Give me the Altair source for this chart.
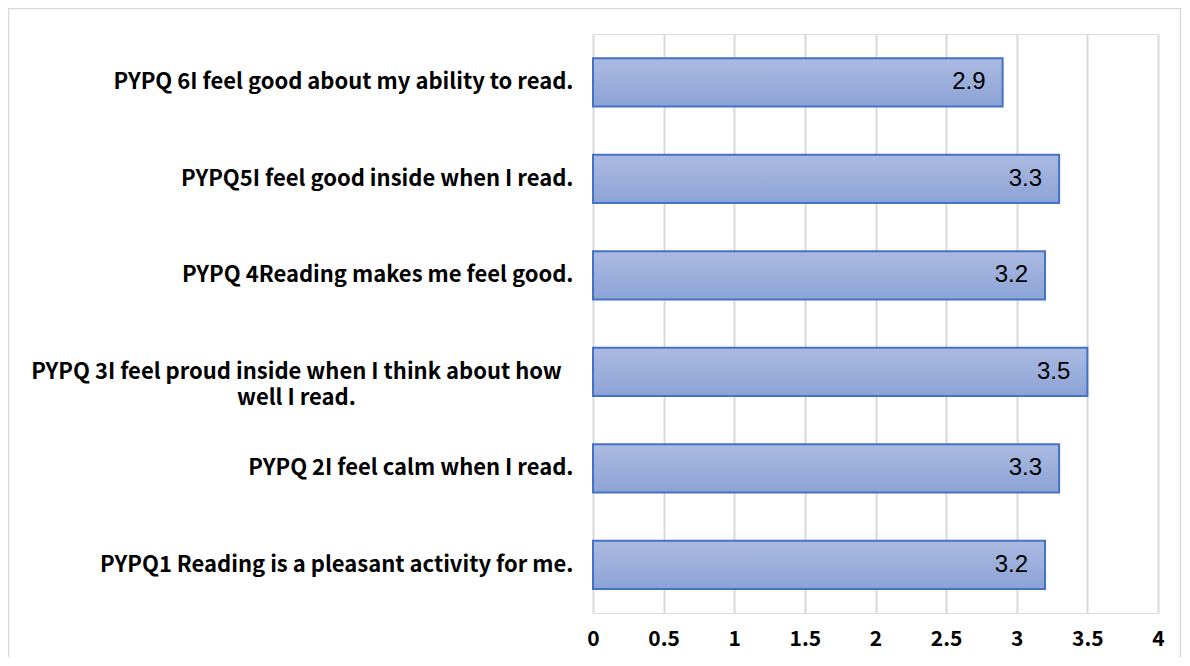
import altair as alt
import pandas as pd

categories = [
    "PYPQ 6I feel good about my ability to read.",
    "PYPQ5I feel good inside when I read.",
    "PYPQ 4Reading makes me feel good.",
    "PYPQ 3I feel proud inside when I think about how\nwell I read.",
    "PYPQ 2I feel calm when I read.",
    "PYPQ1 Reading is a pleasant activity for me.",
]
values = [2.9, 3.3, 3.2, 3.5, 3.3, 3.2]
x_ticks = [0, 0.5, 1, 1.5, 2, 2.5, 3, 3.5, 4]

df = pd.DataFrame({"item": categories, "score": values})

W, H = 565, 579
PAD = {"left": 585, "top": 26, "right": 24, "bottom": 44}

y_enc = alt.Y(
    "item:N",
    sort=categories,
    scale=alt.Scale(paddingInner=0.5, paddingOuter=0.25),
    axis=alt.Axis(
        title=None,
        domain=False,
        ticks=False,
        labelFont="Noto Sans CJK SC",
        labelFontWeight="bold",
        labelFontSize=22,
        labelColor="#000000",
        labelLimit=700,
        labelLineHeight=26,
        labelExpr="split(datum.label, '\\n')",
        labelAlign={"condition": {"test": "indexof(datum.value, '\\n') >= 0", "value": "center"}, "value": "right"},
        labelPadding={"condition": {"test": "indexof(datum.value, '\\n') >= 0", "value": 297}, "value": 20},
    ),
)
x_enc = alt.X(
    "score:Q",
    scale=alt.Scale(domain=[0, 4], nice=False),
    axis=alt.Axis(
        title=None,
        values=x_ticks,
        domain=False,
        ticks=False,
        grid=True,
        gridColor="#d9d9d9",
        gridWidth=2,
        labelFont="Noto Sans CJK SC",
        labelFontWeight="bold",
        labelFontSize=21,
        labelColor="#000000",
        labelPadding=15,
        labelFlush=False,
        format="~g",
    ),
)

base = alt.Chart(df)

bars = base.mark_bar(
    color=alt.Gradient(
        gradient="linear",
        stops=[
            alt.GradientStop(color="#abbae1", offset=0),
            alt.GradientStop(color="#8ca3d6", offset=1),
        ],
        x1=0, x2=0, y1=0, y2=1,
    ),
    stroke="#4472c4",
    strokeWidth=2,
).encode(x=x_enc, y=y_enc)

labels = base.mark_text(
    align="right", baseline="middle", dx=-17, fontSize=24,
    font="Liberation Sans", color="#000000",
).encode(
    x=alt.X("score:Q"),
    y=alt.Y("item:N", sort=categories),
    text=alt.Text("score:Q", format=".1f"),
)

border = alt.Chart(pd.DataFrame({"k": [0]})).mark_rect(
    filled=False, stroke="#d9d9d9", strokeWidth=1.5
).encode(
    x=alt.value(-584.5), x2=alt.value(W + 22.5),
    y=alt.value(-25.5), y2=alt.value(H + 60),
)

chart = alt.layer(border, bars, labels).properties(
    width=W, height=H, padding=PAD, autosize=alt.AutoSizeParams(type="none")
).configure_view(stroke=None).configure(background="white")

chart.save("out.html", embed_options={"renderer": "svg", "actions": False})
